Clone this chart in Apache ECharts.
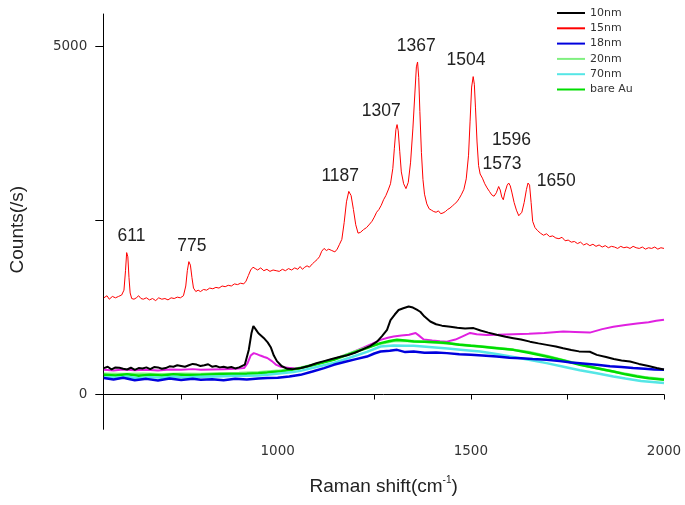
<!DOCTYPE html>
<html>
<head>
<meta charset="utf-8">
<script src="https://cdn.jsdelivr.net/npm/echarts@6/dist/echarts.min.js"></script>
<style>
html,body{margin:0;padding:0;background:#fff;}
#chart{width:685px;height:505px;}
</style>
</head>
<body>
<div id="chart"></div>
<script>
// ---- data ----
const seriesNames = ['10nm', '15nm', '18nm', '20nm', '70nm', 'bare Au'];
const xTicks = [750, 1000, 1250, 1500, 1750, 2000];
const xTickLabels = [1000, 1500, 2000];
const yTicks = [0, 2500, 5000];
const yTickLabels = [0, 5000];
const peakLabels = [611, 775, 1187, 1307, 1367, 1504, 1573, 1596, 1650];

const s15nm = [
[550,1390],[558,1420],[564,1370],[572,1410],[580,1390],[588,1410],[596,1430],[602,1500],[606,1780],[609,2040],[612,1980],[615,1680],[618,1460],[622,1380],[628,1370],[634,1390],[640,1420],[646,1380],[652,1370],[660,1390],[668,1360],[676,1380],[684,1350],[692,1390],[700,1370],[708,1380],[716,1360],[724,1390],[732,1380],[740,1400],[748,1390],[756,1420],[762,1560],[766,1780],[770,1910],[774,1860],[778,1680],[782,1530],[788,1480],[794,1500],[800,1480],[808,1510],[816,1500],[824,1530],[832,1520],[840,1540],[848,1530],[856,1560],[864,1550],[872,1570],[880,1560],[888,1590],[896,1580],[904,1600],[912,1590],[918,1630],[924,1710],[930,1790],[936,1830],[942,1810],[948,1790],[956,1820],[964,1780],[972,1800],[980,1770],[988,1790],[996,1780],[1004,1770],[1012,1800],[1020,1780],[1028,1810],[1036,1790],[1044,1820],[1052,1800],[1058,1840],[1064,1800],[1070,1830],[1076,1850],[1082,1830],[1090,1880],[1096,1910],[1102,1940],[1108,1980],[1114,2060],[1120,2100],[1126,2070],[1132,2090],[1140,2070],[1148,2050],[1154,2090],[1160,2160],[1166,2230],[1172,2470],[1178,2770],[1184,2920],[1190,2860],[1196,2660],[1202,2440],[1208,2320],[1214,2330],[1222,2370],[1230,2400],[1238,2450],[1244,2490],[1250,2550],[1256,2620],[1262,2660],[1268,2720],[1274,2800],[1280,2860],[1286,2940],[1292,3030],[1298,3250],[1302,3540],[1306,3810],[1309,3880],[1312,3790],[1316,3490],[1320,3200],[1326,3030],[1332,2960],[1338,3050],[1344,3340],[1350,3830],[1355,4320],[1359,4710],[1362,4780],[1365,4560],[1368,4070],[1372,3480],[1376,3090],[1380,2880],[1386,2740],[1392,2670],[1398,2650],[1404,2630],[1410,2620],[1416,2640],[1422,2600],[1428,2610],[1434,2630],[1440,2660],[1446,2680],[1452,2710],[1458,2740],[1464,2770],[1470,2820],[1476,2880],[1482,2950],[1488,3100],[1494,3440],[1498,3930],[1502,4420],[1506,4570],[1509,4460],[1512,4120],[1516,3630],[1520,3290],[1524,3170],[1530,3110],[1536,3030],[1542,2970],[1548,2920],[1554,2870],[1560,2850],[1566,2900],[1572,2990],[1576,2940],[1580,2840],[1584,2800],[1588,2900],[1594,3010],[1598,3040],[1602,3000],[1606,2910],[1612,2760],[1618,2650],[1624,2570],[1628,2560],[1632,2620],[1638,2760],[1644,2950],[1648,3040],[1652,3010],[1656,2760],[1660,2490],[1666,2400],[1672,2360],[1680,2320],[1688,2290],[1696,2310],[1704,2270],[1712,2280],[1720,2250],[1728,2240],[1736,2260],[1744,2210],[1752,2220],[1760,2190],[1768,2200],[1776,2170],[1784,2190],[1792,2150],[1800,2170],[1808,2140],[1816,2160],[1824,2130],[1832,2150],[1840,2120],[1848,2140],[1856,2110],[1864,2130],[1872,2120],[1880,2100],[1888,2130],[1896,2110],[1904,2120],[1912,2100],[1920,2130],[1928,2110],[1936,2100],[1944,2120],[1952,2090],[1960,2110],[1968,2100],[1976,2120],[1984,2090],[1992,2110],[2000,2100]
];

const s10nm = [
[550,380],[560,400],[570,360],[580,390],[590,385],[600,370],[610,360],[620,385],[630,355],[640,380],[650,375],[660,390],[670,365],[680,395],[690,390],[700,370],[710,380],[720,405],[730,400],[740,420],[750,410],[760,400],[770,420],[780,440],[790,430],[800,410],[810,420],[820,435],[830,400],[840,410],[850,390],[860,400],[870,385],[880,395],[890,375],[900,390],[905,380],[915,430],[925,640],[932,880],[937,985],[944,930],[950,880],[958,840],[966,800],[974,750],[982,680],[990,560],[998,480],[1010,410],[1025,370],[1040,365],[1060,380],[1080,410],[1100,450],[1120,480],[1140,510],[1160,540],[1180,565],[1200,600],[1220,650],[1240,700],[1257,760],[1270,840],[1283,930],[1292,1070],[1303,1150],[1313,1215],[1325,1240],[1339,1265],[1350,1250],[1360,1220],[1369,1190],[1380,1120],[1395,1050],[1410,1010],[1425,990],[1447,975],[1465,960],[1485,950],[1507,955],[1525,920],[1545,890],[1567,860],[1590,830],[1610,810],[1630,790],[1653,760],[1675,735],[1700,710],[1720,690],[1739,665],[1760,640],[1780,620],[1808,615],[1826,570],[1850,540],[1870,510],[1890,490],[1912,475],[1935,440],[1960,410],[1981,380],[2000,360]
];

const sMagenta = [
[550,355],[575,345],[600,360],[630,350],[660,355],[690,345],[720,360],[750,355],[780,365],[801,355],[830,360],[860,365],[890,370],[913,380],[922,450],[930,560],[938,595],[946,580],[955,560],[965,540],[973,525],[985,480],[995,430],[1007,400],[1030,380],[1059,380],[1090,420],[1120,470],[1150,520],[1188,595],[1220,670],[1245,730],[1266,785],[1285,815],[1300,835],[1320,850],[1340,860],[1357,885],[1365,850],[1378,790],[1400,775],[1420,765],[1438,760],[1460,790],[1480,840],[1498,885],[1515,865],[1541,855],[1570,860],[1610,868],[1650,875],[1690,885],[1739,905],[1770,900],[1808,890],[1840,940],[1869,975],[1900,1000],[1930,1020],[1960,1040],[1980,1060],[2000,1075]
];

const s18nm = [
[550,236],[575,215],[600,240],[630,205],[660,225],[690,200],[720,230],[750,210],[780,225],[801,211],[830,220],[860,205],[890,225],[920,215],[950,230],[973,236],[1000,240],[1030,260],[1059,283],[1090,330],[1120,380],[1145,427],[1175,470],[1200,505],[1231,546],[1250,590],[1266,618],[1290,630],[1309,642],[1330,610],[1352,618],[1380,600],[1410,605],[1438,595],[1470,580],[1500,570],[1530,560],[1567,546],[1600,530],[1630,520],[1660,510],[1696,499],[1730,480],[1760,460],[1790,445],[1826,427],[1860,405],[1890,395],[1920,380],[1950,370],[1975,360],[2000,355]
];

const s20nm = [
[550,300],[600,295],[650,300],[700,290],[750,300],[801,295],[850,305],[900,310],[950,320],[1000,340],[1050,375],[1100,440],[1150,515],[1200,620],[1250,710],[1300,770],[1350,770],[1400,750],[1450,730],[1500,705],[1550,680],[1600,650],[1650,610],[1700,550],[1750,480],[1800,410],[1850,350],[1900,300],[1950,250],[2000,220]
];

const s70nm = [
[550,250],[580,240],[610,255],[640,235],[670,250],[700,240],[730,255],[760,245],[801,254],[840,260],[880,265],[920,270],[950,275],[973,283],[1010,305],[1040,325],[1059,340],[1100,395],[1145,455],[1190,535],[1231,613],[1266,690],[1300,705],[1330,700],[1352,700],[1400,680],[1440,660],[1480,640],[1524,618],[1570,580],[1610,540],[1650,500],[1696,451],[1740,400],[1782,350],[1826,305],[1869,259],[1900,230],[1940,195],[1970,180],[2000,164]
];

const sBareAu = [
[550,283],[580,275],[610,290],[640,270],[670,285],[700,275],[730,290],[760,280],[801,283],[840,290],[880,295],[920,300],[950,305],[973,316],[1010,335],[1040,360],[1059,379],[1090,420],[1120,465],[1145,499],[1175,560],[1200,610],[1231,667],[1266,739],[1290,770],[1309,786],[1330,775],[1352,761],[1380,760],[1410,750],[1438,739],[1470,715],[1500,700],[1524,690],[1560,670],[1610,642],[1650,600],[1696,546],[1740,490],[1782,427],[1820,385],[1869,330],[1900,290],[1930,260],[1960,235],[2000,211]
];

// ---- styles ----
const labelOffsets = [[4,-16],[1,-15.5],[-9.7,-15.2],[-15,-13.5],[-3.2,-15.8],[-6.5,-16.6],[3,-22],[3.6,-42.8],[27.4,-2.3]];
const colors = {
  '10nm': '#000000', '15nm': '#ff0000', '18nm': '#0000dd', '20nm': '#80f080',
  '70nm': '#55e6e6', 'bare Au': '#00dd00', magenta: '#e020e0'
};

function localMax(data, x) {
  let m = -Infinity;
  data.forEach(p => { if (Math.abs(p[0] - x) <= 6 && p[1] > m) m = p[1]; });
  return m;
}

const markData = peakLabels.map((p, i) => ({
  coord: [p, localMax(s15nm, p)],
  value: String(p),
  label: { offset: labelOffsets[i] }
}));

function line(name, data, color, width, extra) {
  return Object.assign({
    name: name, type: 'line', data: data, showSymbol: false, symbol: 'none',
    lineStyle: { color: color, width: width }, itemStyle: { color: color },
    z: 2, animation: false
  }, extra || {});
}

const plain = v => String(v);

const chart = echarts.init(document.getElementById('chart'), null, { renderer: 'canvas' });
const option = {
  animation: false,
  backgroundColor: '#ffffff',
  grid: { left: 103.3, right: 21, top: 14, bottom: 75.7, containLabel: false },
  legend: {
    data: seriesNames,
    orient: 'vertical', left: 557, top: 6, padding: 0,
    icon: 'rect', itemWidth: 28, itemHeight: 2, itemGap: 1.3,
    textStyle: { fontFamily: 'DejaVu Sans', fontSize: 11, color: '#333', lineHeight: 14 }
  },
  xAxis: {
    type: 'value', min: 548.5, max: 2000,
    name: '{t|Raman shift(cm}{s|-1}{t|)}',
    nameLocation: 'middle', nameGap: 46,
    nameTextStyle: {
      rich: {
        t: { fontFamily: 'Liberation Sans', fontSize: 19, color: '#222', lineHeight: 22 },
        s: { fontFamily: 'Liberation Sans', fontSize: 10, color: '#222', lineHeight: 10, verticalAlign: 'top' }
      }
    },
    axisLine: { lineStyle: { color: '#000', width: 1 } },
    axisTick: { show: true, length: 5, customValues: xTicks, lineStyle: { color: '#000' } },
    axisLabel: { customValues: xTickLabels, formatter: plain, margin: 15, fontFamily: 'DejaVu Sans', fontSize: 13.5, color: '#333' },
    splitLine: { show: false }
  },
  yAxis: {
    type: 'value', min: -500, max: 5470,
    name: 'Counts(/s)', nameLocation: 'middle', nameGap: 76,
    nameTextStyle: { fontFamily: 'Liberation Sans', fontSize: 19, color: '#222', padding: [0, 16, 0, 0] },
    axisLine: { show: true, lineStyle: { color: '#000', width: 1 } },
    axisTick: { show: true, length: 8, customValues: yTicks, lineStyle: { color: '#000' } },
    axisLabel: { customValues: yTickLabels, formatter: plain, margin: 16, fontFamily: 'DejaVu Sans', fontSize: 13.5, color: '#333' },
    splitLine: { show: false }
  },
  series: [
    line('magenta', sMagenta, colors.magenta, 2),
    line('20nm', s20nm, colors['20nm'], 2.5),
    line('bare Au', sBareAu, colors['bare Au'], 2.5),
    line('70nm', s70nm, colors['70nm'], 2.5),
    line('18nm', s18nm, colors['18nm'], 2.5),
    line('10nm', s10nm, colors['10nm'], 2),
    line('15nm', s15nm, colors['15nm'], 1, {
      markPoint: {
        symbol: 'circle', symbolSize: 1,
        itemStyle: { color: 'rgba(0,0,0,0)' },
        label: { show: true, position: 'inside', formatter: '{c}', fontFamily: 'Liberation Sans', fontSize: 17.5, color: '#222' },
        data: markData,
        animation: false
      }
    })
  ]
};
chart.setOption(option);
</script>
</body>
</html>
